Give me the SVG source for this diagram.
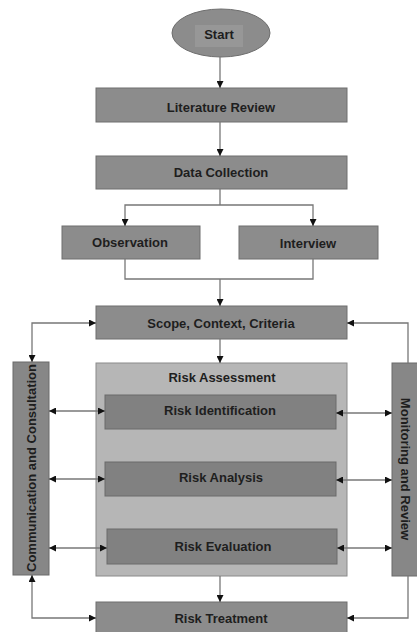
<svg xmlns="http://www.w3.org/2000/svg" width="417" height="632" viewBox="0 0 417 632">
<defs>
<style>
.box{fill:#8c8c8c;stroke:#6e6e6e;stroke-width:1}
.sub{fill:#818181;stroke:#6a6a6a;stroke-width:1}
.ra{fill:#b6b6b6;stroke:#8a8a8a;stroke-width:1}
.side{fill:#878787;stroke:#6a6a6a;stroke-width:1}
.t{font-family:"Liberation Sans",Arial,sans-serif;font-weight:bold;font-size:13px;fill:#1e1e1e;text-anchor:middle;dominant-baseline:central}
.ln{fill:none;stroke:#777;stroke-width:1.3}
</style>
<marker id="ah" viewBox="0 0 10 10" refX="10" refY="5" markerWidth="7" markerHeight="7" orient="auto-start-reverse" markerUnits="userSpaceOnUse">
<path d="M0,0 L10,5 L0,10 z" fill="#111"/>
</marker>
</defs>
<rect width="417" height="632" fill="#fff"/>
<g id="start">
<ellipse cx="221" cy="33" rx="49" ry="24" class="box"/>
<rect x="195" y="25" width="48" height="22" fill="#979797"/>
<text class="t" x="219" y="34">Start</text>
</g>
<g id="literature-review">
<rect class="box" x="96" y="88" width="251" height="34"/>
<text class="t" x="221" y="107">Literature Review</text>
</g>
<g id="data-collection">
<rect class="box" x="96" y="156" width="251" height="33"/>
<text class="t" x="221" y="172">Data Collection</text>
</g>
<g id="observation">
<rect class="box" x="62" y="226" width="138" height="33"/>
<text class="t" x="130" y="242">Observation</text>
</g>
<g id="interview">
<rect class="box" x="239" y="226" width="139" height="33"/>
<text class="t" x="308" y="243">Interview</text>
</g>
<g id="scope">
<rect class="box" x="96" y="306" width="251" height="33"/>
<text class="t" x="221" y="323">Scope, Context, Criteria</text>
</g>
<g id="risk-assessment">
<rect class="ra" x="96" y="363" width="251" height="213"/>
<text class="t" x="222" y="377">Risk Assessment</text>
</g>
<g id="risk-identification">
<rect class="sub" x="105" y="395" width="231" height="34"/>
<text class="t" x="220" y="410">Risk Identification</text>
</g>
<g id="risk-analysis">
<rect class="sub" x="105" y="462" width="231" height="34"/>
<text class="t" x="221" y="477">Risk Analysis</text>
</g>
<g id="risk-evaluation">
<rect class="sub" x="107" y="529" width="230" height="35"/>
<text class="t" x="223" y="546">Risk Evaluation</text>
</g>
<g id="risk-treatment">
<rect class="box" x="96" y="602" width="251" height="34"/>
<text class="t" x="221" y="618">Risk Treatment</text>
</g>
<g id="communication">
<rect class="side" x="13" y="362" width="36" height="213"/>
<text class="t" transform="translate(31,468) rotate(-90)">Communication and Consultation</text>
</g>
<g id="monitoring">
<rect class="side" x="392" y="363" width="30" height="213"/>
<text class="t" transform="translate(405,469) rotate(90)">Monitoring and Review</text>
</g>
<g id="connectors">
<line class="ln" x1="220" y1="57" x2="220" y2="88" marker-end="url(#ah)"/>
<line class="ln" x1="220" y1="122" x2="220" y2="156" marker-end="url(#ah)"/>
<polyline class="ln" points="220,189 220,205"/>
<polyline class="ln" points="125,226 125,205 313,205 313,226" marker-start="url(#ah)" marker-end="url(#ah)"/>
<polyline class="ln" points="125,259 125,279 313,279 313,259"/>
<line class="ln" x1="220" y1="279" x2="220" y2="306" marker-end="url(#ah)"/>
<line class="ln" x1="220" y1="339" x2="220" y2="363" marker-end="url(#ah)"/>
<line class="ln" x1="220" y1="576" x2="220" y2="602" marker-end="url(#ah)"/>
<polyline class="ln" points="32,362 32,323 96,323" marker-start="url(#ah)" marker-end="url(#ah)"/>
<polyline class="ln" points="32,575 32,618 96,618" marker-start="url(#ah)" marker-end="url(#ah)"/>
<polyline class="ln" points="408,363 408,323 347,323" marker-end="url(#ah)"/>
<polyline class="ln" points="408,576 408,618 347,618" marker-end="url(#ah)"/>
<line class="ln" x1="49" y1="411" x2="105" y2="411" marker-start="url(#ah)" marker-end="url(#ah)"/>
<line class="ln" x1="49" y1="479" x2="105" y2="479" marker-start="url(#ah)" marker-end="url(#ah)"/>
<line class="ln" x1="49" y1="548" x2="107" y2="548" marker-start="url(#ah)" marker-end="url(#ah)"/>
<line class="ln" x1="336" y1="413" x2="392" y2="413" marker-start="url(#ah)" marker-end="url(#ah)"/>
<line class="ln" x1="336" y1="480" x2="392" y2="480" marker-start="url(#ah)" marker-end="url(#ah)"/>
<line class="ln" x1="337" y1="548" x2="392" y2="548" marker-start="url(#ah)" marker-end="url(#ah)"/>
</g>
</svg>
